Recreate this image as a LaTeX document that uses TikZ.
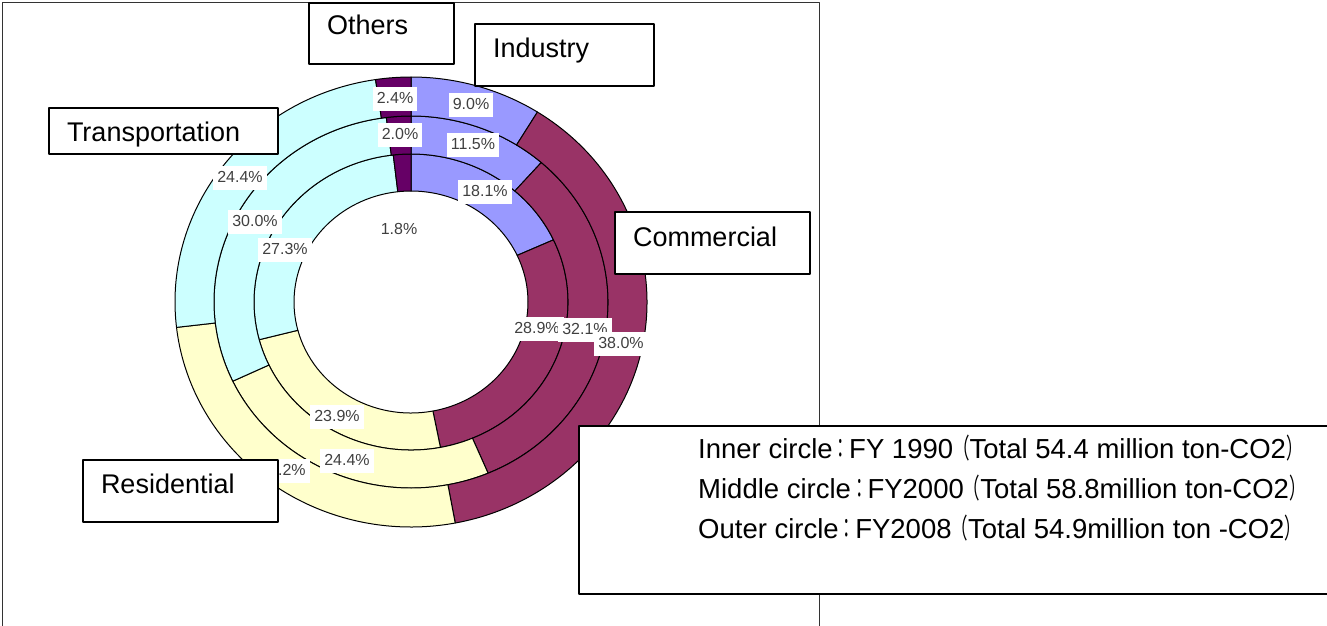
\documentclass[tikz,border=0pt]{standalone}
\usepackage{graphicx}
\usepackage{fontspec}
\setmainfont{Liberation Sans}
\newfontfamily\cjk{Noto Sans CJK JP}
\newcommand\fw[1]{\scalebox{0.6}[1]{\cjk #1}}
\usetikzlibrary{calc}
\definecolor{ind}{HTML}{9999FF}
\definecolor{com}{HTML}{993366}
\definecolor{res}{HTML}{FFFFCC}
\definecolor{tra}{HTML}{CCFFFF}
\definecolor{oth}{HTML}{660066}
\tikzset{
	wedge/.style={draw=black, line width=1pt},
	pct/.style={fill=white, text=black!75, font=\fontsize{16}{18}\selectfont, inner xsep=4pt, inner ysep=4.5pt, text height=12pt, text depth=3pt},
	catbox/.style={draw=black, line width=2pt, fill=white, anchor=north west, align=left, inner xsep=18pt, inner ysep=0pt, text height=33pt, text depth=29pt, font=\fontsize{27}{30}\selectfont},
	legbox/.style={draw=black, line width=2pt, fill=white, inner sep=0pt},
	legtext/.style={anchor=base west, inner sep=0pt, font=\fontsize{27.5}{30}\selectfont}
}
\begin{document}
\begin{tikzpicture}[x=1pt, y=-1pt, line join=round]
			\useasboundingbox (0,0) rectangle (1327,625);
			\draw[line width=1.3pt, black!80] (2.5,640)--(2.5,2.5)--(819.5,2.5)--(819.5,640);
			\coordinate (O) at (411,302);
			% inner circle: FY1990
			\foreach \s/\e/\c in {0/18.1/ind,18.1/47.0/com,47.0/70.9/res,70.9/98.2/tra,98.2/100/oth}{
				\filldraw[wedge, fill=\c] ([shift={(-90+3.6*\s:157 and 148)}]O) arc[start angle=-90+3.6*\s, end angle=-90+3.6*\e, x radius=157, y radius=148]
				--([shift={(-90+3.6*\e:117 and 111)}]O) arc[start angle=-90+3.6*\e, end angle=-90+3.6*\s, x radius=117, y radius=111]--cycle;}
			% middle circle: FY2000
			\foreach \s/\e/\c in {0/11.5/ind,11.5/43.6/com,43.6/68.0/res,68.0/98.0/tra,98.0/100/oth}{
				\filldraw[wedge, fill=\c] ([shift={(-90+3.6*\s:197 and 186)}]O) arc[start angle=-90+3.6*\s, end angle=-90+3.6*\e, x radius=197, y radius=186]
				--([shift={(-90+3.6*\e:157 and 148)}]O) arc[start angle=-90+3.6*\e, end angle=-90+3.6*\s, x radius=157, y radius=148]--cycle;}
			% outer circle: FY2008
			\foreach \s/\e/\c in {0/9.0/ind,9.0/47.0/com,47.0/73.2/res,73.2/97.6/tra,97.6/100/oth}{
				\filldraw[wedge, fill=\c] ([shift={(-90+3.6*\s:236 and 225)}]O) arc[start angle=-90+3.6*\s, end angle=-90+3.6*\e, x radius=236, y radius=225]
				--([shift={(-90+3.6*\e:197 and 186)}]O) arc[start angle=-90+3.6*\e, end angle=-90+3.6*\s, x radius=197, y radius=186]--cycle;}
			% percentages
			\foreach \x/\y/\v [count=\i] in {485/192/18.1,537/329/28.9,337/417/23.9,285/250/27.3,399/230/1.8}{
				\node[pct] (in\i) at (\x,\y) {\v\%};}
			\foreach \x/\y/\v [count=\i] in {473/145/11.5,585/330/32.1,347/461/24.4,255/222/30.0,400/135/2.0}{
				\node[pct] (mid\i) at (\x,\y) {\v\%};}
			\foreach \x/\y/\v [count=\i] in {471/105/9.0,621/344/38.0,283/471/26.2,240/178/24.4,395/99/2.4}{
				\node[pct] (out\i) at (\x,\y) {\v\%};}
			% sector names
			\node[catbox, text width=109pt, text height=31pt, text depth=30pt] (others) at (308,2) {Others};
			\node[catbox, text width=143pt] (industry) at (474,23) {Industry};
			\node[catbox, text width=159pt, text height=34pt, text depth=28pt] (commercial) at (614,211) {Commercial};
			\node[catbox, text width=193pt, text depth=13pt] (transport) at (48,107) {Transportation};
			\node[catbox, text width=159pt] (residential) at (82,459) {Residential};
			% legend
			\node[legbox, anchor=north west, minimum width=762pt, minimum height=168pt] (legend) at (578,425) {};
			\node[legtext] (leg1) at (698,458) {Inner circle\fw{：}FY 1990\fw{（}Total 54.4 million ton-CO2\fw{）}};
			\node[legtext] (leg2) at (698,498) {Middle circle\fw{：}FY2000\fw{（}Total 58.8million ton-CO2\fw{）}};
			\node[legtext] (leg3) at (698,538) {Outer circle\fw{：}FY2008\fw{（}Total 54.9million ton -CO2\fw{）}};
		\end{tikzpicture}
\end{document}
